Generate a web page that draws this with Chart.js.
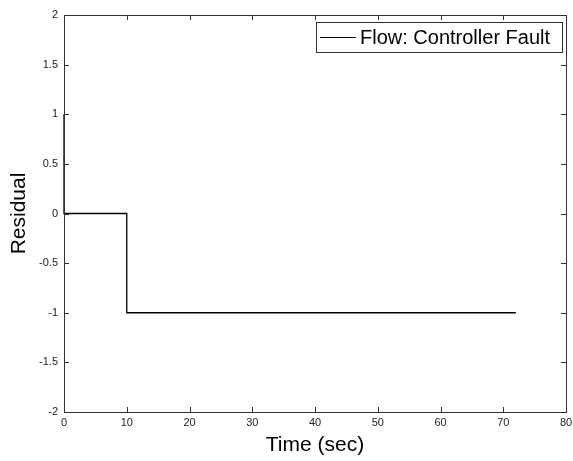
<!DOCTYPE html>
<html>
<head>
<meta charset="utf-8">
<script src="https://cdn.jsdelivr.net/npm/chart.js@4"></script>
<style>
  html, body { margin: 0; padding: 0; background: #fff; }
  #wrap { width: 573px; height: 461px; }
</style>
</head>
<body>
<div id="wrap"><canvas id="canvas"></canvas></div>
<script>
// données
const timeSec = [0, 0, 10, 10, 72];
const residual = [1, 0, 0, -1, -1];
const seriesLabel = 'Flow: Controller Fault';
const xTicks = [0, 10, 20, 30, 40, 50, 60, 70, 80];
const yTicks = [-2, -1.5, -1, -0.5, 0, 0.5, 1, 1.5, 2];

const axisColor = '#333';
const textColor = '#222';
const fontFamily = '"Liberation Sans", Arial, sans-serif';

// petites graduations vers l'intérieur, sur les 4 côtés (style matlab)
const innerTicks = {
    id: 'innerTicks',
    afterDraw(chart) {
        const { ctx, chartArea: a, scales } = chart;
        const len = 5;
        ctx.save();
        ctx.strokeStyle = axisColor;
        ctx.lineWidth = 1;
        ctx.beginPath();
        xTicks.forEach(v => {
            const px = Math.round(scales.x.getPixelForValue(v)) + 0.5;
            ctx.moveTo(px, a.bottom); ctx.lineTo(px, a.bottom - len);
            ctx.moveTo(px, a.top); ctx.lineTo(px, a.top + len);
        });
        yTicks.forEach(v => {
            const py = Math.round(scales.y.getPixelForValue(v)) + 0.5;
            ctx.moveTo(a.left, py); ctx.lineTo(a.left + len, py);
            ctx.moveTo(a.right, py); ctx.lineTo(a.right - len, py);
        });
        ctx.stroke();
        // cadre
        ctx.strokeRect(Math.round(a.left) + 0.5, Math.round(a.top) + 0.5,
            Math.round(a.right - a.left), Math.round(a.bottom - a.top));
        ctx.restore();
    }
};

// légende encadrée en haut à droite
const boxLegend = {
    id: 'boxLegend',
    afterDraw(chart) {
        const { ctx, chartArea: a } = chart;
        const ds = chart.data.datasets[0];
        ctx.save();
        ctx.font = '20px ' + fontFamily;
        const tw = ctx.measureText(ds.label).width;
        const right = Math.round(a.right) - 4;
        const top = Math.round(a.top) + 7;
        const h = 30;
        const left = Math.round(right - tw - 56);
        ctx.fillStyle = '#fff';
        ctx.fillRect(left, top, right - left, h);
        ctx.strokeStyle = axisColor;
        ctx.lineWidth = 1;
        ctx.strokeRect(left + 0.5, top + 0.5, right - left, h);
        ctx.strokeStyle = '#000';
        ctx.beginPath();
        ctx.moveTo(left + 4, top + h / 2 + 0.5);
        ctx.lineTo(left + 40, top + h / 2 + 0.5);
        ctx.stroke();
        ctx.fillStyle = '#000';
        ctx.textBaseline = 'middle';
        ctx.fillText(ds.label, left + 44, top + h / 2 + 1);
        ctx.restore();
    }
};

new Chart(document.querySelector('#canvas'), {
    type: 'line',
    data: {
        datasets: [{
            label: seriesLabel,
            data: timeSec.map((t, i) => ({ x: t, y: residual[i] })),
            borderColor: '#000',
            borderWidth: 1.3,
            pointRadius: 0,
            tension: 0,
            fill: false,
            clip: false
        }]
    },
    options: {
        responsive: true,
        maintainAspectRatio: false,
        animation: false,
        layout: { padding: { top: 15, right: 0, left: 0, bottom: 0 } },
        plugins: {
            legend: { display: false },
            tooltip: { enabled: false }
        },
        scales: {
            x: {
                type: 'linear',
                min: 0, max: 80,
                afterBuildTicks: s => { s.ticks = xTicks.map(v => ({ value: v })); },
                afterFit: s => { s.height = 49; s.paddingRight = 7; s.paddingLeft = 0; },
                grid: { display: false, drawTicks: false },
                border: { display: false },
                ticks: {
                    color: textColor,
                    padding: 4,
                    maxRotation: 0,
                    callback: v => String(v),
                    font: { family: fontFamily, size: 11 }
                },
                title: {
                    display: true,
                    text: 'Time (sec)',
                    color: '#000',
                    padding: { top: 0, bottom: 3 },
                    font: { family: fontFamily, size: 21 }
                }
            },
            y: {
                type: 'linear',
                min: -2, max: 2,
                afterBuildTicks: s => { s.ticks = yTicks.map(v => ({ value: v })); },
                afterFit: s => { s.width = 64; },
                grid: { display: false, drawTicks: false },
                border: { display: false },
                ticks: {
                    color: textColor,
                    padding: 6,
                    callback: v => String(v),
                    font: { family: fontFamily, size: 11 }
                },
                title: {
                    display: true,
                    text: 'Residual',
                    color: '#000',
                    padding: { top: 7, bottom: 0 },
                    font: { family: fontFamily, size: 21 }
                }
            }
        }
    },
    plugins: [innerTicks, boxLegend]
});
</script>
</body>
</html>
